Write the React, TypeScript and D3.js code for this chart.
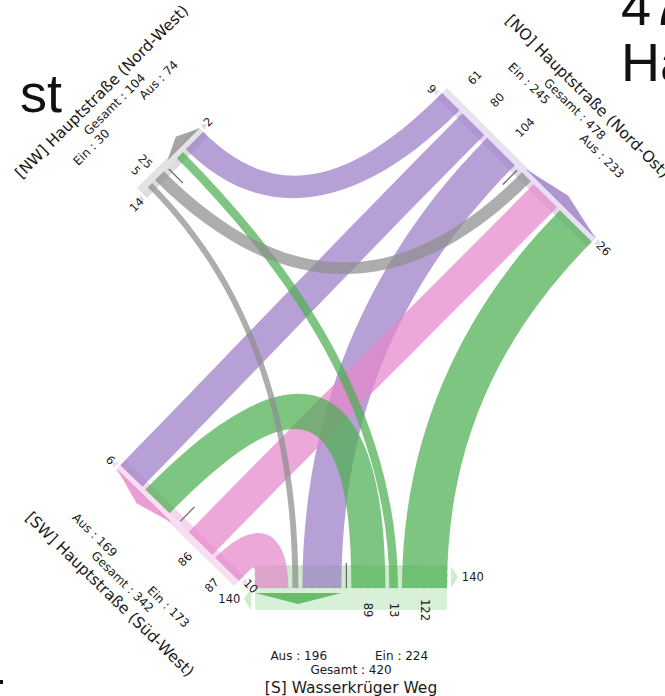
import React from 'react';
import * as d3 from 'd3';

// ---------------- data ----------------
const armIds = ['S', 'NO', 'SW', 'NW'];
const armTitles = ['[S] Wasserkrüger Weg', '[NO] Hauptstraße (Nord-Ost)', '[SW] Hauptstraße (Süd-West)', '[NW] Hauptstraße (Nord-West)'];
const armEin = [224, 245, 173, 30];
const armAus = [196, 233, 169, 74];
const armGesamt = [420, 478, 342, 104];
const armStartValue = [140, 9, 10, 14];
const armEndValue = [140, 26, 6, 2];

const flowFrom = ['NO', 'NO', 'NO', 'SW', 'SW', 'S', 'S', 'S', 'NW', 'NW'];
const flowTo = ['NW', 'SW', 'S', 'NO', 'S', 'NW', 'SW', 'NO', 'NO', 'S'];
const flowValue = [61, 80, 104, 86, 87, 13, 89, 122, 25, 5];

const srcOrder: Record<string, string[]> = { S: ['NO', 'NW', 'SW'], NO: ['NW', 'SW', 'S'], SW: ['S', 'NO', 'NW'], NW: ['SW', 'S', 'NO'] };
const dstOrder: Record<string, string[]> = { S: ['NO', 'NW', 'SW'], NO: ['NW', 'SW', 'S'], SW: ['NW', 'S', 'NO'], NW: ['SW', 'S', 'NO'] };

// ---------------- style / geometry ----------------
const armColor: Record<string, string> = { S: '#4caf50', NO: '#9b7cc6', SW: '#e487cb', NW: '#8e8e8e' };
const armLight: Record<string, string> = { S: '#cdeccd', NO: '#e3d8f0', SW: '#f6d6ed', NW: '#dcdcdc' };
const geom: Record<string, any> = {
  S: { x: 447, y: 588, ang: 180, tin: 22, tout: 22, lbl: 22, gap: 4, al: 7, big: true },
  NO: { x: 442, y: 93, ang: 44.8, tin: 7, tout: 7, lbl: 34, gap: 3, al: 5, big: false },
  SW: { x: 239, y: 581, ang: 224.3, tin: 7, tout: 7, lbl: 22, gap: 3, al: 5, big: false },
  NW: { x: 142, y: 193, ang: -45, tin: 7, tout: 7, lbl: 20, gap: 3, al: 5, big: false },
};
const FONT = 'DejaVu Sans, Verdana, sans-serif';
const TXT = '#1a1a1a';
const NUM = 11.5, SMALL = 12, TITLE = 15.5;

const norm = (a: number) => { while (a >= 90) a -= 180; while (a < -90) a += 180; return a; };
const deg = (v: number[]) => Math.atan2(v[1], v[0]) * 180 / Math.PI;

function ctrl(p: number[], np: number[], q: number[], nq: number[]) {
  const dx = q[0] - p[0], dy = q[1] - p[1];
  const dist = Math.hypot(dx, dy);
  const cross = np[0] * nq[1] - np[1] * nq[0];
  if (Math.abs(cross) > 0.25) {
    const det = -cross;
    const a = (-dx * nq[1] + nq[0] * dy) / det;
    const b = (np[0] * dy - np[1] * dx) / det;
    if (a > 0 && b > 0 && a < 1.5 * dist && b < 1.5 * dist) return [a * 2 / 3, b * 2 / 3];
  }
  return [dist * 0.35, dist * 0.35];
}

export default function App() {
  const widthScale = d3.scaleLinear().domain([0, 122]).range([4.3, 45]);
  const GAP = 4, DIV = 10;
  const flows = flowFrom.map((f, i) => ({ from: f, to: flowTo[i], value: flowValue[i] }));
  const valueOf = (a: string, b: string) => { const f = flows.find(x => x.from === a && x.to === b); return f ? f.value : 0; };

  const arms: Record<string, any> = {};
  armIds.forEach((id, i) => {
    const g = geom[id];
    const rad = g.ang * Math.PI / 180;
    const u = [Math.cos(rad), Math.sin(rad)];
    const n = [-u[1], u[0]];
    const pt = (s: number, d: number) => [g.x + u[0] * s + n[0] * d, g.y + u[1] * s + n[1] * d];
    let s = 0;
    const slots: Record<string, number[]> = {};
    srcOrder[id].forEach(p => { const w = widthScale(valueOf(id, p)); slots['src:' + p] = [s, s + w]; s += w + GAP; });
    s += DIV - GAP;
    const div = s - DIV / 2;
    const dstStart = s;
    dstOrder[id].forEach(p => { const w = widthScale(valueOf(p, id)); slots['dst:' + p] = [s, s + w]; s += w + GAP; });
    const L = s - GAP;
    arms[id] = { id, i, g, u, n, pt, slots, div, dstStart, L };
  });

  const P = (p: number[]) => `${p[0].toFixed(2)},${p[1].toFixed(2)}`;
  const poly = (pts: number[][]) => 'M' + pts.map(P).join('L') + 'Z';

  const ribbon = (A: any, sa: number[], B: any, sb: number[]) => {
    const a0 = A.pt(sa[0], 0), a1 = A.pt(sa[1], 0), b0 = B.pt(sb[0], 0), b1 = B.pt(sb[1], 0);
    const am = A.pt((sa[0] + sa[1]) / 2, 0), bm = B.pt((sb[0] + sb[1]) / 2, 0);
    const cm = ctrl(am, A.n, bm, B.n);
    const c1 = ctrl(a0, A.n, b1, B.n);
    const c2 = ctrl(a1, A.n, b0, B.n);
    const bl = (x: number, m: number) => 0.6 * x + 0.4 * m;
    const e1 = [bl(c1[0], cm[0]), bl(c1[1], cm[1])];
    const e2 = [bl(c2[0], cm[0]), bl(c2[1], cm[1])];
    const add = (p: number[], v: number[], k: number) => [p[0] + v[0] * k, p[1] + v[1] * k];
    return `M${P(a0)}C${P(add(a0, A.n, e1[0]))} ${P(add(b1, B.n, e1[1]))} ${P(b1)}L${P(b0)}C${P(add(b0, B.n, e2[1]))} ${P(add(a1, A.n, e2[0]))} ${P(a1)}Z`;
  };

  const els: any[] = [];
  armIds.forEach(id => {
    const A = arms[id]; const g = A.g;
    els.push(<path key={'out' + id} d={poly([A.pt(0, 0), A.pt(A.L, 0), A.pt(A.L, -g.tout), A.pt(0, -g.tout)])} fill={armLight[id]} opacity={0.8} />);
    els.push(<path key={'in' + id} d={poly([A.pt(0, 0), A.pt(A.L, 0), A.pt(A.L, g.tin), A.pt(0, g.tin)])} fill={armLight[id]}
      stroke={id === 'S' ? '#b3dcb3' : 'none'} strokeDasharray="4,3" strokeWidth={1} />);
    const m = (A.dstStart + A.L) / 2;
    els.push(<path key={'wedge' + id} d={poly([A.pt(A.dstStart, -5), A.pt(A.L, -5), A.pt(m, -16)])} fill={armColor[id]} opacity={0.8} />);
    els.push(<path key={'arS' + id} d={poly([A.pt(-g.gap, 0), A.pt(-g.gap, g.tin), A.pt(-g.gap - g.al, g.tin / 2)])} fill={armLight[id]} />);
    els.push(<path key={'arE' + id} d={poly([A.pt(A.L + g.gap, 0), A.pt(A.L + g.gap, -g.tout), A.pt(A.L + g.gap + g.al, -g.tout / 2)])} fill={armLight[id]} />);
  });

  flows.forEach((f, i) => {
    const A = arms[f.from], B = arms[f.to];
    els.push(<path key={'f' + i} d={ribbon(A, A.slots['src:' + f.to], B, B.slots['dst:' + f.from])} fill={armColor[f.from]} opacity={0.72} />);
  });

  armIds.forEach((id, i) => {
    const A = arms[id]; const g = A.g;
    const d0 = g.big ? 0 : 2, d1 = g.big ? 25 : 22;
    const p0 = A.pt(A.div, d0), p1 = A.pt(A.div, d1);
    els.push(<line key={'div' + id} x1={p0[0]} y1={p0[1]} x2={p1[0]} y2={p1[1]} stroke="#666" strokeWidth={1.2} />);
    const rotN = norm(deg(A.n));
    srcOrder[id].forEach(p => {
      const v = valueOf(id, p);
      if (!v) return;
      const sl = A.slots['src:' + p];
      const c = A.pt((sl[0] + sl[1]) / 2, -g.lbl);
      els.push(<text key={'sl' + id + p} transform={`translate(${c[0]},${c[1]}) rotate(${rotN})`} textAnchor="middle" dominantBaseline="central"
        fontSize={NUM} fontFamily={FONT} fill={TXT}>{v}</text>);
    });
    const rotU = norm(deg(A.u));
    const sv = String(armStartValue[i]), ev = String(armEndValue[i]);
    const sDist = g.big ? g.gap + g.al + 4 + sv.length * 3.6 : 8 + sv.length * 2;
    const eDist = g.big ? g.gap + g.al + 4 + ev.length * 3.6 : 8 + ev.length * 2.5;
    const sp = A.pt(-sDist, g.tin / 2 + (g.big ? 0 : 1));
    const ep = A.pt(A.L + eDist, -g.tout / 2);
    els.push(<text key={'sv' + id} transform={`translate(${sp[0]},${sp[1]}) rotate(${rotU})`} textAnchor="middle" dominantBaseline="central" fontSize={NUM} fontFamily={FONT} fill={TXT}>{sv}</text>);
    els.push(<text key={'ev' + id} transform={`translate(${ep[0]},${ep[1]}) rotate(${rotU})`} textAnchor="middle" dominantBaseline="central" fontSize={NUM} fontFamily={FONT} fill={TXT}>{ev}</text>);
    const r = [Math.cos(rotU * Math.PI / 180), Math.sin(rotU * Math.PI / 180)];
    const out = [-A.n[0], -A.n[1]];
    const sign = r[0] * A.u[0] + r[1] * A.u[1] > 0 ? 1 : -1;
    const c = A.pt(A.L / 2, 0);
    const at = (d: number, along: number) => [c[0] + out[0] * d + r[0] * along, c[1] + out[1] * d + r[1] * along];
    const aus = at(68, sign * 24), ein = at(68, -sign * 24), ges = at(82, 0), tit = at(100, 0);
    const T = (key: string, p: number[], txt: string, anchor: string, size: number) => (
      <text key={key} transform={`translate(${p[0]},${p[1]}) rotate(${rotU})`} textAnchor={anchor} dominantBaseline="central" fontSize={size} fontFamily={FONT} fill={TXT}>{txt}</text>);
    els.push(T('aus' + id, aus, `Aus : ${armAus[i]}`, sign > 0 ? 'start' : 'end', SMALL));
    els.push(T('ein' + id, ein, `Ein : ${armEin[i]}`, sign > 0 ? 'end' : 'start', SMALL));
    els.push(T('ges' + id, ges, `Gesamt : ${armGesamt[i]}`, 'middle', SMALL));
    els.push(T('tit' + id, tit, armTitles[i], 'middle', TITLE));
  });

  const bgFont = 'Liberation Sans, Arial, sans-serif';
  return (
    <div style={{ position: 'absolute', left: 0, top: 0 }}>
      <svg width={665} height={696} style={{ display: 'block', background: '#fff' }}>
        <text x={20} y={112} fontSize={54} fontFamily={bgFont} fill="#111">st</text>
        <text x={621} y={25} fontSize={54} fontFamily={bgFont} fill="#111">47</text>
        <text x={621} y={81} fontSize={54} fontFamily={bgFont} fill="#111">Ha</text>
        <rect x={0} y={680} width={3} height={4} fill="#111" />
        {els}
      </svg>
    </div>
  );
}
